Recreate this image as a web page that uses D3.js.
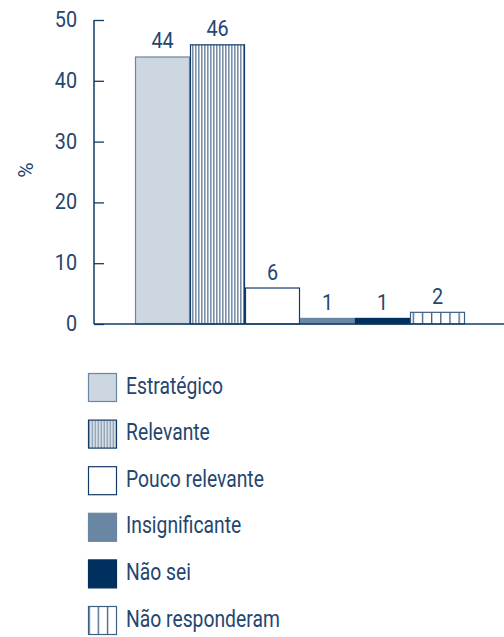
<!DOCTYPE html>
<html>
<head>
<meta charset="utf-8">
<script src="https://cdn.jsdelivr.net/npm/d3@7"></script>
<style>
  html, body { margin: 0; padding: 0; background: #fff; }
  svg { display: block; font-family: "Roboto", "Liberation Sans", sans-serif; font-weight: 400; }
</style>
</head>
<body>
<svg id="chart" width="504" height="637"></svg>
<script>
// Answer categories, their shares (%) and axis ticks
const categories = ["Estratégico", "Relevante", "Pouco relevante", "Insignificante", "Não sei", "Não responderam"];
const values = [44, 46, 6, 1, 1, 2];
const yTicks = [0, 10, 20, 30, 40, 50];

const navy = "#143a66";
const textColor = "#24466f";
// Horizontal squeeze giving the condensed type look
const numSqueeze = 0.9;
const wordSqueeze = 0.84;

const svg = d3.select("#chart");
const defs = svg.append("defs");

// Fine vertical hatching for "Relevante"
const fine = defs.append("pattern").attr("id", "fineStripes")
  .attr("patternUnits", "userSpaceOnUse").attr("width", 3).attr("height", 10);
fine.append("rect").attr("width", 3).attr("height", 10).attr("fill", "#fff");
fine.append("rect").attr("x", 0).attr("width", 1.6).attr("height", 10).attr("fill", "#7a91aa");

// Wide vertical hatching for "Não responderam"
const wide = defs.append("pattern").attr("id", "wideStripes")
  .attr("patternUnits", "userSpaceOnUse").attr("width", 9.17).attr("height", 10);
wide.append("rect").attr("width", 9.17).attr("height", 10).attr("fill", "#fff");
wide.append("rect").attr("x", 0).attr("width", 1.3).attr("height", 10).attr("fill", "#3d5f85");

const fills = ["#cdd7e1", "url(#fineStripes)", "#ffffff", "#6986a3", "#00305e", "url(#wideStripes)"];
const strokes = ["#6986a3", navy, navy, "#6986a3", "#00305e", "#3d5f85"];

const axisX = 94;
const y = d3.scaleLinear().domain([0, 50]).range([324, 20]);
const x = d3.scaleBand().domain(categories).range([135, 465]).padding(0);

// Bars
svg.append("g").selectAll("rect").data(values).join("rect")
  .attr("x", (d, i) => x(categories[i]) + 0.5)
  .attr("y", d => y(d) + 0.5)
  .attr("width", x.bandwidth() - 1)
  .attr("height", d => y(0) - y(d) - 0.5)
  .attr("fill", (d, i) => fills[i])
  .attr("stroke", (d, i) => strokes[i])
  .attr("stroke-width", 1.2);

// Value labels
svg.append("g").selectAll("text").data(values).join("text")
  .attr("transform", (d, i) =>
    `translate(${x(categories[i]) + x.bandwidth() / 2},${y(d) - 8}) scale(${numSqueeze},1)`)
  .attr("text-anchor", "middle")
  .attr("fill", textColor)
  .attr("font-size", 22)
  .text(d => d);

// Y axis with inward ticks
const yAxis = d3.axisRight(y).tickValues(yTicks).tickSize(10).tickFormat("");
const gAxis = svg.append("g").attr("transform", `translate(${axisX},0)`).call(yAxis);
gAxis.select(".domain").remove();
gAxis.selectAll("line").attr("stroke", navy).attr("stroke-width", 1.3);
svg.append("line").attr("x1", axisX).attr("x2", axisX).attr("y1", y(50)).attr("y2", y(0))
  .attr("stroke", navy).attr("stroke-width", 1.5);

// Tick labels
svg.append("g").selectAll("text").data(yTicks).join("text")
  .attr("transform", d => `translate(77,${y(d) + 7}) scale(${numSqueeze},1)`)
  .attr("text-anchor", "end")
  .attr("fill", textColor)
  .attr("font-size", 22)
  .text(d => d);

// Baseline
svg.append("line").attr("x1", axisX).attr("x2", 504).attr("y1", y(0)).attr("y2", y(0))
  .attr("stroke", navy).attr("stroke-width", 1.5);

// Axis title
svg.append("text")
  .attr("transform", `translate(33,170) rotate(-90)`)
  .attr("text-anchor", "middle")
  .attr("fill", textColor)
  .attr("font-size", 21)
  .text("%");

// Legend
const legend = svg.append("g").selectAll("g").data(categories).join("g")
  .attr("transform", (d, i) => `translate(88.5,${373.5 + i * 46.6})`);
legend.append("rect")
  .attr("width", 28).attr("height", 28)
  .attr("fill", (d, i) => fills[i])
  .attr("stroke", (d, i) => strokes[i])
  .attr("stroke-width", 1.2);
legend.append("text")
  .attr("transform", `translate(37.5,20) scale(${wordSqueeze},1)`)
  .attr("fill", textColor)
  .attr("font-size", 23)
  .text(d => d);
</script>
</body>
</html>
